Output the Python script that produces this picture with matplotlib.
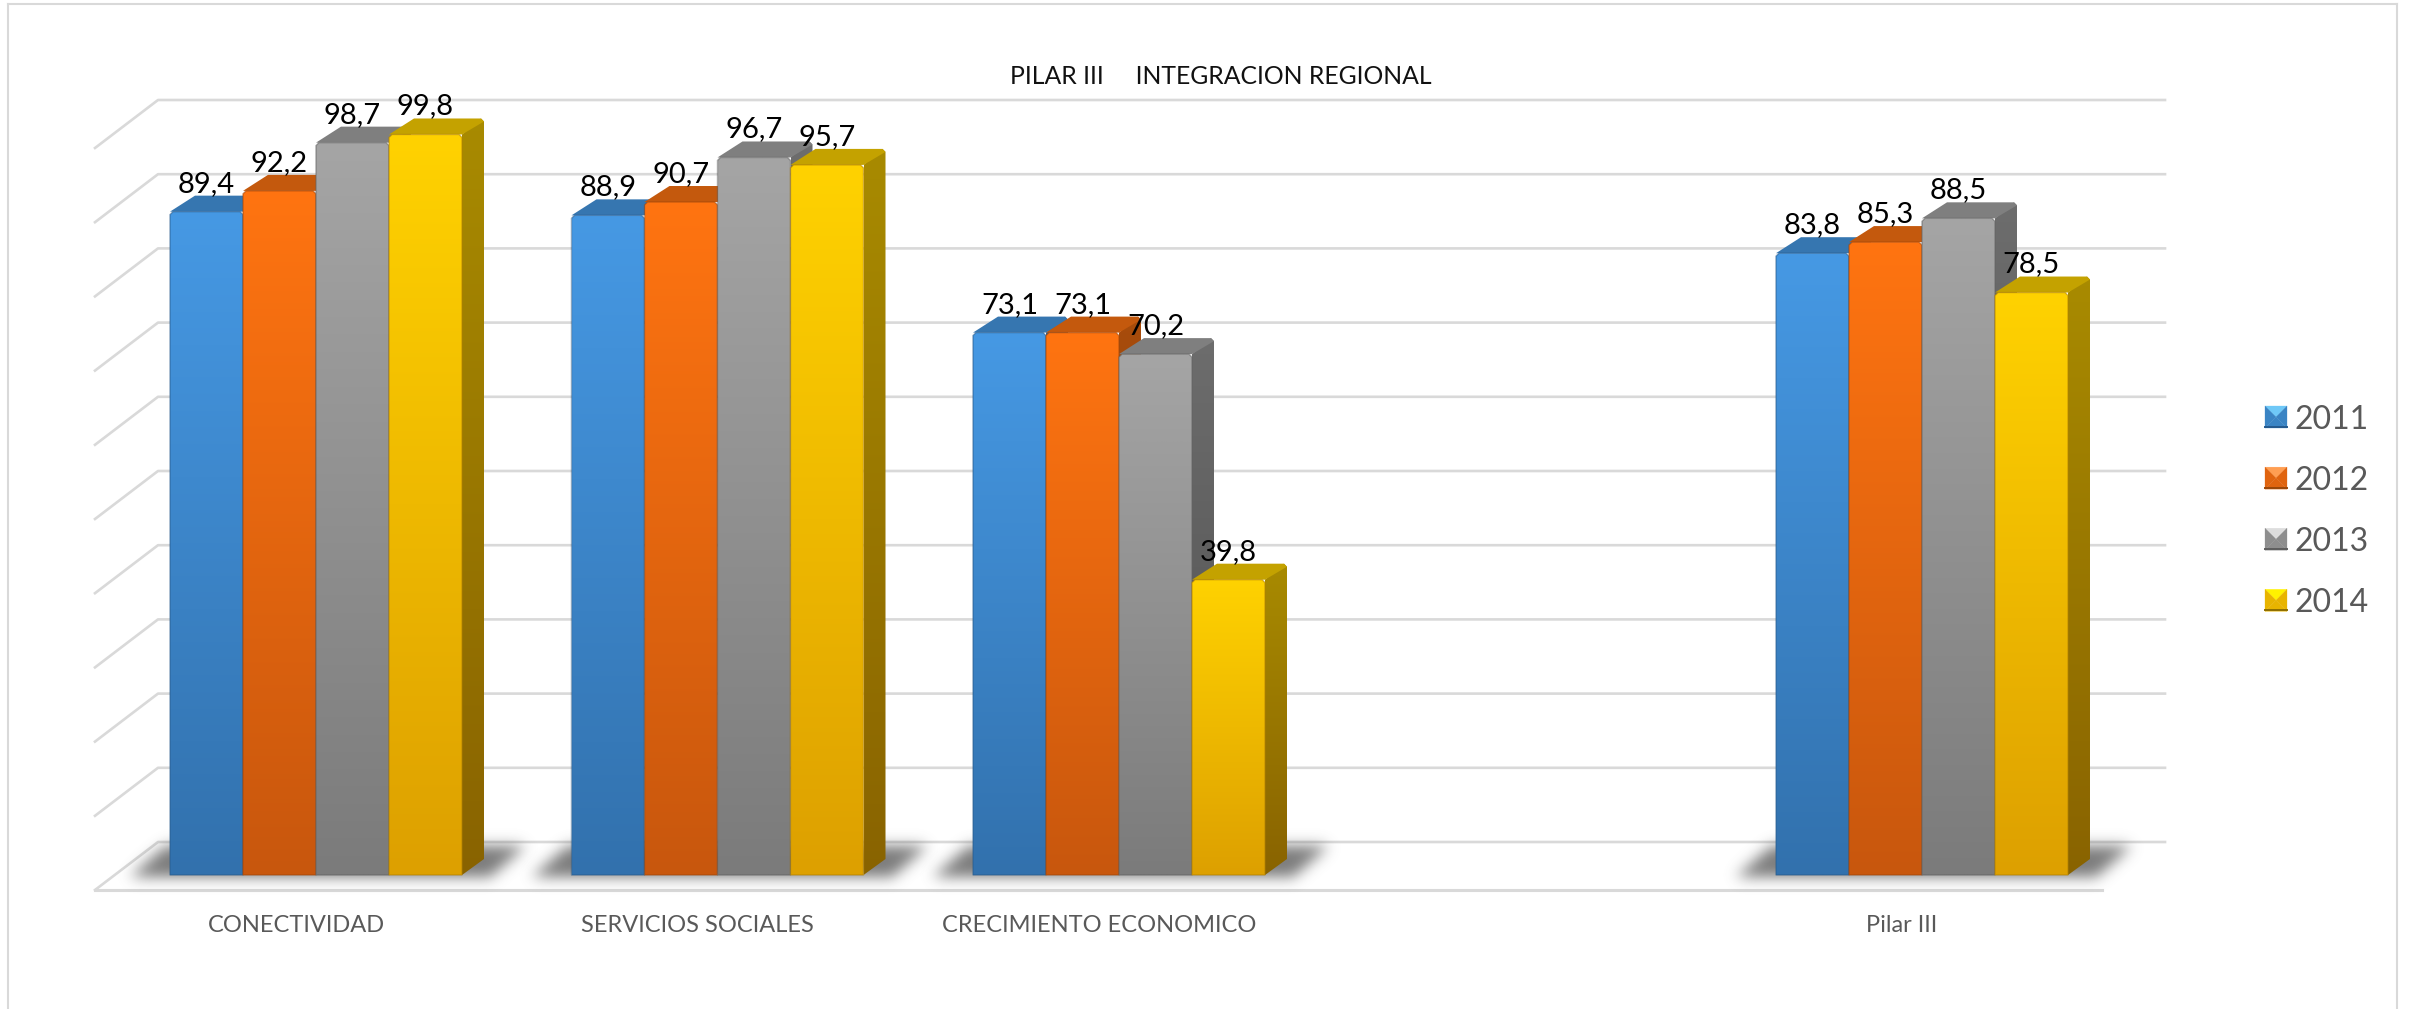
import numpy as np
import matplotlib
matplotlib.use('Agg')
import matplotlib.pyplot as plt
from matplotlib.patches import Polygon

plt.rcParams['font.family'] = ['Lato', 'DejaVu Sans']

categories = ['CONECTIVIDAD', 'SERVICIOS SOCIALES', 'CRECIMIENTO ECONOMICO', '', 'Pilar III']
years = ['2011', '2012', '2013', '2014']
v2011 = [89.4, 88.9, 73.1, np.nan, 83.8]
v2012 = [92.2, 90.7, 73.1, np.nan, 85.3]
v2013 = [98.7, 96.7, 70.2, np.nan, 88.5]
v2014 = [99.8, 95.7, 39.8, np.nan, 78.5]
labels = [['89,4', '88,9', '73,1', '', '83,8'],
          ['92,2', '90,7', '73,1', '', '85,3'],
          ['98,7', '96,7', '70,2', '', '88,5'],
          ['99,8', '95,7', '39,8', '', '78,5']]
series = [v2011, v2012, v2013, v2014]
grid_values = list(range(0, 101, 10))

col_top = ['#4699E4', '#FF7411', '#A5A5A5', '#FFD200']
col_bot = ['#3271AD', '#C8570D', '#7B7B7B', '#DDA000']
leg_light = ['#6FC8F7', '#FF9E52', '#DDDDDD', '#FFF200']
leg_mid = ['#3A84C4', '#E0640F', '#8E8E8E', '#E8B400']
leg_dark = ['#24598E', '#9A4709', '#5E5E5E', '#8F6F00']

W, H = 2415, 1009
# scale of the chart, in pixels
X0, XS = 316.0, 401.5
Y0, YS = 875.0, 7.42
BAR = 73.0 / XS
DX, DY = 22.0 / XS, 16.0 / YS


def xp(p):
    return (p - X0) / XS


def yp(p):
    return (Y0 - p) / YS


def rgb(c):
    return np.array(matplotlib.colors.to_rgb(c))


def grad(c1, c2):
    t = np.linspace(0, 1, 256)[:, None, None]
    return (1 - t) * rgb(c1)[None, None, :] + t * rgb(c2)[None, None, :]


fig = plt.figure(figsize=(W / 100, H / 100), dpi=100)
ax = fig.add_axes([0, 0, 1, 1])
ax.set_xlim(xp(0), xp(W))
ax.set_ylim(yp(H), yp(0))
ax.set_autoscale_on(False)
ax.axis('off')

GRID = '#D9D9D9'
# frame
ax.plot([xp(8), xp(8)], [yp(H), yp(4)], color=GRID, lw=1.5, zorder=1)
ax.plot([xp(8), xp(2397)], [yp(4), yp(4)], color=GRID, lw=1.5, zorder=1)
ax.plot([xp(2397), xp(2397)], [yp(4), yp(H)], color=GRID, lw=1.5, zorder=1)

# back wall and left wall lines
for g in grid_values:
    yb = yp(842) + g
    ax.plot([xp(95), xp(158), xp(2165)], [yb - 48 / YS, yb, yb], color=GRID, lw=1.9, zorder=1)
ax.plot([xp(95), xp(2102)], [yp(890), yp(890)], color=GRID, lw=2.2, zorder=1)

# floor shadows
kern = np.exp(-0.5 * (np.arange(-24, 25) / 7.0) ** 2)
kern = kern / kern.sum()
n = 2
for i in range(len(categories)):
    if np.isnan(v2011[i]):
        continue
    left = X0 + XS * i - 146
    h, w = 90, 480
    yy, xx = np.mgrid[0:h, 0:w]
    # parallelogram under the bars, in pixels inside this small image
    top, bot = 24, 54
    off = (bot - yy) * 1.15
    mask = ((yy >= top) & (yy <= bot) & (xx >= 20 + off) & (xx <= 380 + off)).astype(float)
    a = np.apply_along_axis(lambda r: np.convolve(r, kern, mode='same'), 0, mask)
    a = np.apply_along_axis(lambda r: np.convolve(r, kern, mode='same'), 1, a)
    im = np.zeros((h, w, 4))
    im[..., :3] = 0.35
    im[..., 3] = a * 0.8
    ax.imshow(im, extent=(xp(left - 60), xp(left - 60 + w), yp(822 + h), yp(822)),
              aspect='auto', zorder=n, interpolation='bilinear')
n += 1

# bars, painted left to right so each one covers the side of the one before
cx = 3.0 / XS
cy = 3.0 / YS
for i in range(len(categories)):
    for s in range(len(years)):
        v = series[s][i]
        if np.isnan(v):
            continue
        x0 = i + (s - 2) * BAR
        x1 = x0 + BAR
        # side
        side = Polygon([(x1, 0), (x1 + DX, DY), (x1 + DX, v + DY - cy), (x1 + DX - cx, v + DY), (x1, v)],
                       transform=ax.transData)
        c1 = rgb(col_top[s]) * 0.66
        c2 = rgb(col_bot[s]) * 0.62
        img = ax.imshow(grad(c1, c2), extent=(x1, x1 + DX, 0, v + DY), aspect='auto', zorder=n)
        img.set_clip_path(side)
        n += 1
        # top
        ax.add_patch(Polygon([(x0, v), (x0 + DX + cx, v + DY), (x1 + DX - cx, v + DY), (x1 + DX, v + DY - cy), (x1, v)],
                             closed=True, fc=rgb(col_top[s]) * 0.77, ec='none', zorder=n))
        n += 1
        # front
        pts = [(x0, 0), (x0, v - cy), (x0 + cx, v), (x1 - cx, v), (x1, v - cy), (x1, 0)]
        front = Polygon(pts, transform=ax.transData)
        img = ax.imshow(grad(col_top[s], col_bot[s]), extent=(x0, x1, 0, v), aspect='auto', zorder=n)
        img.set_clip_path(front)
        n += 1
        ax.add_patch(Polygon(pts, closed=True, fc='none', ec=rgb(col_bot[s]) * 0.8, lw=1.0, alpha=0.55, zorder=n))
        n += 1

# data labels
for s in range(len(years)):
    for i in range(len(categories)):
        if labels[s][i] == '':
            continue
        x = i + (s - 1.5) * BAR
        ax.text(x, series[s][i] + 20 / YS, labels[s][i], ha='center', va='baseline',
                fontsize=21, color='black', zorder=n + 5)

# category labels
for i, c in enumerate(categories):
    ax.text(i - 20 / XS, yp(924), c, ha='center', va='center_baseline',
            fontsize=17, color='#595959', zorder=n + 5)

ax.text(xp(1221), yp(84), 'PILAR III     INTEGRACION REGIONAL', ha='center', va='baseline',
        fontsize=17.8, color='#111111', zorder=n + 5)

# legend
for s, yr in enumerate(years):
    cy_leg = 417 + 61.1 * s
    lx0, lx1 = 2265, 2287
    ty, by = cy_leg - 11, cy_leg + 11
    mx, my = (lx0 + lx1) / 2, cy_leg
    faces = [([(lx0, ty), (lx1, ty), (mx, my)], leg_light[s]),
             ([(lx0, ty), (mx, my), (lx0, by)], leg_mid[s]),
             ([(lx1, ty), (mx, my), (lx1, by)], leg_mid[s]),
             ([(lx0, by), (mx, my), (lx1, by)], leg_mid[s])]
    for f, c in faces:
        ax.add_patch(Polygon([(xp(a), yp(b)) for a, b in f], closed=True, fc=c, ec=c, lw=0.2, zorder=n + 5))
    ax.plot([xp(lx0), xp(lx1)], [yp(by - 1), yp(by - 1)], color=leg_dark[s], lw=1.4, zorder=n + 6)
    ax.text(xp(2295), yp(cy_leg), yr, ha='left', va='center_baseline', fontsize=23,
            color='#595959', zorder=n + 5)

fig.savefig('out.png', dpi=100, facecolor='white')
